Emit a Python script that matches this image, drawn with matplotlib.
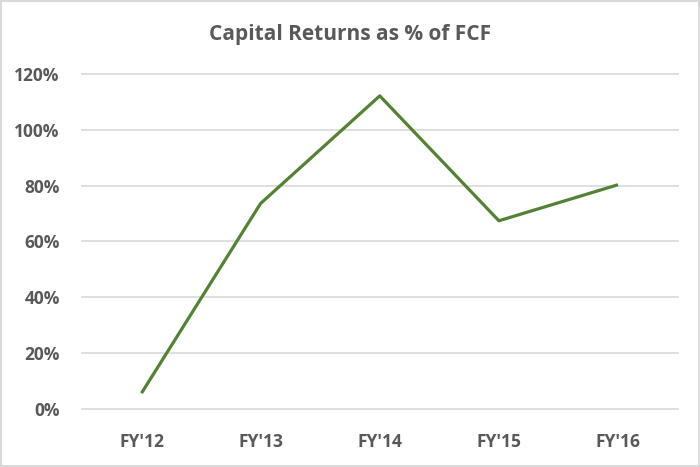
import matplotlib
matplotlib.use("Agg")
import matplotlib.pyplot as plt
from matplotlib.ticker import PercentFormatter
from matplotlib.patches import Rectangle

years = ["FY'12", "FY'13", "FY'14", "FY'15", "FY'16"]
returns_pct = [5.7, 73.6, 112.1, 67.4, 80.3]
y_ticks = [0, 20, 40, 60, 80, 100, 120]

plt.rcParams['font.family'] = ['Open Sans', 'DejaVu Sans']
text_grey = '#595959'

fig = plt.figure(figsize=(7, 4.67), dpi=100)
ax = fig.add_axes([0.117, 0.124, 0.851, 0.718])

x = list(range(len(years)))
ax.plot(x, returns_pct, color='#548235', linewidth=2.3, solid_capstyle='butt')

ax.set_xlim(-0.5, len(years) - 0.5)
ax.set_ylim(0, 120)
ax.set_yticks(y_ticks)
ax.yaxis.set_major_formatter(PercentFormatter(decimals=0))
ax.set_xticks(x)
ax.set_xticklabels(years)

ax.grid(axis='y', color='#D9D9D9', linewidth=1.2)
ax.set_axisbelow(True)
for gl in ax.get_ygridlines():
    gl.set_clip_on(False)
for s in ax.spines.values():
    s.set_visible(False)
ax.tick_params(length=0, labelsize=12.5, labelcolor=text_grey)
ax.tick_params(axis='x', pad=17)
ax.tick_params(axis='y', pad=16)
for lab in ax.get_xticklabels() + ax.get_yticklabels():
    lab.set_fontweight('bold')

fig.text(0.5, 0.927, 'Capital Returns as % of FCF', ha='center', va='center',
         fontsize=15, fontweight='bold', color=text_grey)

# light frame around the chart
fig.patches.append(Rectangle((0.002, 0.003), 0.996, 0.994, transform=fig.transFigure,
                             fill=False, edgecolor='#D9D9D9', linewidth=1.5))

fig.savefig('out.png', dpi=100)
